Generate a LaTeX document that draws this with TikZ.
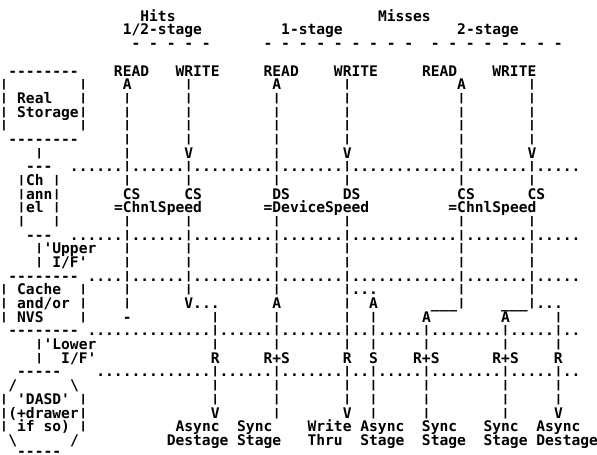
\documentclass[tikz,border=0pt]{standalone}
\usepackage{graphicx}
\usepackage{fontspec}
\setmonofont{DejaVu Sans Mono}
\newdimen\asciiw
\asciiw=8.8pt
\newcommand\gap[1]{\hspace*{#1\asciiw}}
\newcommand\vb{\raisebox{2pt}{\scalebox{1}[0.72]{|}}}
\newcommand\dotrun[1]{\ifnum#1>0 .\expandafter\dotrun\expandafter{\number\numexpr#1-1\relax}\fi}
\tikzset{
  asciirow/.style={anchor=base west, inner sep=0pt, outer sep=0pt, text=black,
                   font=\ttfamily\bfseries\fontsize{14.617pt}{16pt}\selectfont}
}

\begin{document}
\begin{tikzpicture}[x=8.8pt, y=-13.68pt]

  \fill[white] (0.4pt,7.62pt) rectangle (597.4pt,-447.38pt);
  \useasboundingbox (0.4pt,7.62pt) rectangle (597.4pt,-447.38pt);

  % ── Headings ──
  \node[asciirow] (row01) at (0,1) {\gap{16}Hits\gap{23}Misses};
  \node[asciirow] (row02) at (0,2) {\gap{14}1/2-stage\gap{9}1-stage\gap{13}2-stage};
  \node[asciirow] (row03) at (0,3) {\gap{15}-~-~-~-~-\gap{6}-~-~-~-~-~-~-~-~-\gap{2}-~-~-~-~-~-~-~-};

  % ── Real Storage ──
  \node[asciirow] (row05) at (0,5) {~--------\gap{4}READ\gap{3}WRITE\gap{5}READ\gap{4}WRITE\gap{5}READ\gap{4}WRITE};
  \node[asciirow] (row06) at (0,6) {\vb\gap{8}\vb\gap{4}A\gap{6}\vb\gap{9}A\gap{7}\vb\gap{12}A\gap{7}\vb};
  \node[asciirow] (row07) at (0,7) {\vb~Real\gap{3}\vb\gap{4}\vb\gap{6}\vb\gap{9}\vb\gap{7}\vb\gap{12}\vb\gap{7}\vb};
  \node[asciirow] (row08) at (0,8) {\vb~Storage\vb\gap{4}\vb\gap{6}\vb\gap{9}\vb\gap{7}\vb\gap{12}\vb\gap{7}\vb};
  \node[asciirow] (row09) at (0,9) {\vb\gap{8}\vb\gap{4}\vb\gap{6}\vb\gap{9}\vb\gap{7}\vb\gap{12}\vb\gap{7}\vb};
  \node[asciirow] (row10) at (0,10) {~--------\gap{5}\vb\gap{6}\vb\gap{9}\vb\gap{7}\vb\gap{12}\vb\gap{7}\vb};
  \node[asciirow] (row11) at (0,11) {\gap{4}\vb\gap{9}\vb\gap{6}V\gap{9}\vb\gap{7}V\gap{12}\vb\gap{7}V};

  % ── Channel ──
  \node[asciirow] (row12) at (0,12) {\gap{3}---\gap{2}\dotrun{6}\vb\dotrun{6}\vb\dotrun{9}\vb\dotrun{7}\vb\dotrun{12}\vb\dotrun{7}\vb\dotrun{5}};
  \node[asciirow] (row13) at (0,13) {\gap{2}\vb Ch~\vb\gap{7}\vb\gap{6}\vb\gap{9}\vb\gap{7}\vb\gap{12}\vb\gap{7}\vb};
  \node[asciirow] (row14) at (0,14) {\gap{2}\vb ann\vb\gap{7}CS\gap{5}CS\gap{8}DS\gap{6}DS\gap{11}CS\gap{6}CS};
  \node[asciirow] (row15) at (0,15) {\gap{2}\vb el~\vb\gap{6}=ChnlSpeed\gap{7}=DeviceSpeed\gap{9}=ChnlSpeed};
  \node[asciirow] (row16) at (0,16) {\gap{2}\vb\gap{3}\vb\gap{7}\vb\gap{6}\vb\gap{9}\vb\gap{7}\vb\gap{12}\vb\gap{7}\vb};
  \node[asciirow] (row17) at (0,17) {\gap{3}---\gap{2}\dotrun{6}\vb\dotrun{6}\vb\dotrun{9}\vb\dotrun{7}\vb\dotrun{12}\vb\dotrun{7}\vb\dotrun{5}};

  % ── Upper I/F ──
  \node[asciirow] (row18) at (0,18) {\gap{4}\vb'Upper\gap{3}\vb\gap{6}\vb\gap{9}\vb\gap{7}\vb\gap{12}\vb\gap{7}\vb};
  \node[asciirow] (row19) at (0,19) {\gap{4}\vb~I/F'\gap{4}\vb\gap{6}\vb\gap{9}\vb\gap{7}\vb\gap{12}\vb\gap{7}\vb};
  \node[asciirow] (row20) at (0,20) {~--------~\dotrun{4}\vb\dotrun{6}\vb\dotrun{9}\vb\dotrun{7}\vb\dotrun{12}\vb\dotrun{7}\vb\dotrun{5}};

  % ── Cache and/or NVS ──
  \node[asciirow] (row21) at (0,21) {\vb~Cache\gap{2}\vb\gap{4}\vb\gap{6}\vb\gap{9}\vb\gap{7}\vb...\gap{9}\vb\gap{7}\vb};
  \node[asciirow] (row22) at (0,22) {\vb~and/or~\vb\gap{4}\vb\gap{6}V...\gap{6}A\gap{7}\vb\gap{2}A\gap{6}\_\_\_\vb\gap{4}\_\_\_\vb...};
  \node[asciirow] (row23) at (0,23) {\vb~NVS\gap{4}\vb\gap{4}-\gap{9}\vb\gap{6}\vb\gap{7}\vb\gap{2}\vb\gap{5}A\gap{8}A\gap{5}\vb};
  \node[asciirow] (row24) at (0,24) {~--------~\dotrun{14}\vb\dotrun{6}\vb\dotrun{7}\vb\dotrun{2}\vb\dotrun{5}\vb\dotrun{8}\vb\dotrun{5}\vb\dotrun{2}};

  % ── Lower I/F ──
  \node[asciirow] (row25) at (0,25) {\gap{4}\vb'Lower\gap{13}\vb\gap{6}\vb\gap{7}\vb\gap{2}\vb\gap{5}\vb\gap{8}\vb\gap{5}\vb};
  \node[asciirow] (row26) at (0,26) {\gap{4}\vb\gap{2}I/F'\gap{13}R\gap{5}R+S\gap{6}R\gap{2}S\gap{4}R+S\gap{6}R+S\gap{4}R};
  \node[asciirow] (row27) at (0,27) {\gap{2}-----\gap{4}\dotrun{13}\vb\dotrun{6}\vb\dotrun{7}\vb\dotrun{2}\vb\dotrun{5}\vb\dotrun{8}\vb\dotrun{5}\vb\dotrun{2}};

  % ── DASD ──
  \node[asciirow] (row28) at (0,28) {~/\gap{6}\textbackslash\gap{15}\vb\gap{6}\vb\gap{7}\vb\gap{2}\vb\gap{5}\vb\gap{8}\vb\gap{5}\vb};
  \node[asciirow] (row29) at (0,29) {\vb~'DASD'~\vb\gap{14}\vb\gap{6}\vb\gap{7}\vb\gap{2}\vb\gap{5}\vb\gap{8}\vb\gap{5}\vb};
  \node[asciirow] (row30) at (0,30) {\vb(+drawer\vb\gap{14}V\gap{6}\vb\gap{7}V\gap{2}\vb\gap{5}\vb\gap{8}\vb\gap{5}V};
  \node[asciirow] (row31) at (0,31) {\vb~if~so)~\vb\gap{10}Async\gap{2}Sync\gap{4}Write~Async\gap{2}Sync\gap{3}Sync\gap{2}Async};
  \node[asciirow] (row32) at (0,32) {~\textbackslash\gap{6}/\gap{10}Destage~Stage\gap{3}Thru\gap{2}Stage\gap{2}Stage\gap{2}Stage~Destage};
  \node[asciirow] (row33) at (0,33) {\gap{2}\raisebox{3pt}{-----}};

\end{tikzpicture}
\end{document}
